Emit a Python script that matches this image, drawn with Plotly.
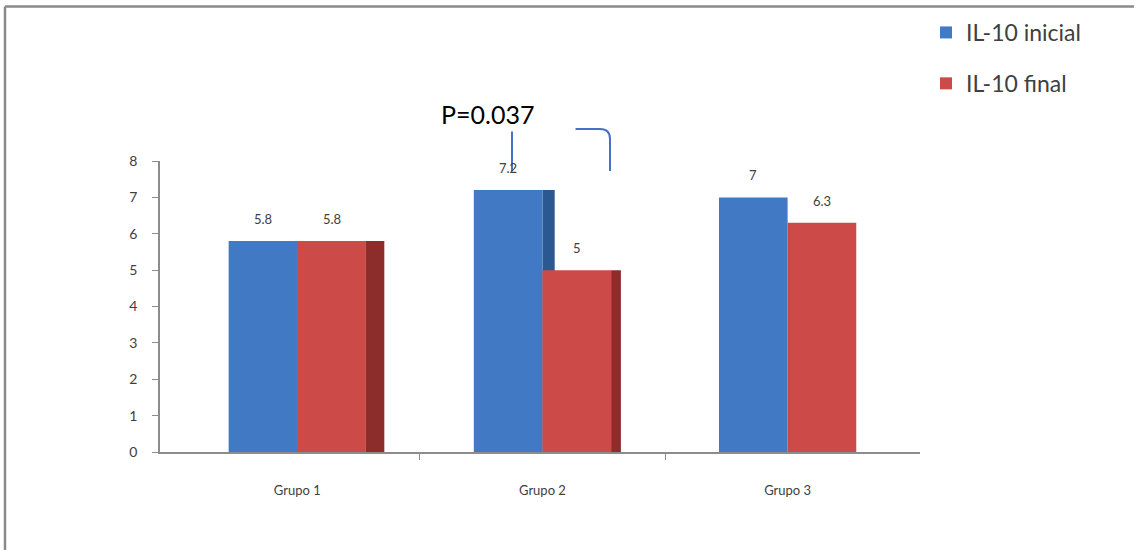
import plotly.graph_objects as go

# Data
grupos = ["Grupo 1", "Grupo 2", "Grupo 3"]
il10_inicial = [5.8, 7.2, 7.0]
il10_final = [5.8, 5.0, 6.3]
y_ticks = [0, 1, 2, 3, 4, 5, 6, 7, 8]

BLUE = "#4279C4"
BLUE_SIDE = "#2B5792"
RED = "#CC4A47"
RED_SIDE = "#8C2D2B"
AXIS = "#8C8C8C"
TXT = "#404040"

W = 0.28                          # width of each bar (axis units)
SIDE_BLUE = [0.05, 0.05, 0.0]     # visible depth of the blue columns
SIDE_RED = [0.075, 0.04, 0.0]     # visible depth of the red columns
xs = list(range(len(grupos)))


def side_values(values, depths):
    # no side face where the depth is not visible
    return [v if d > 0 else None for v, d in zip(values, depths)]


fig = go.Figure()

# darker side faces, drawn first so the front faces sit over them
fig.add_bar(x=xs, y=side_values(il10_inicial, SIDE_BLUE), offset=0,
            width=[d if d > 0 else 0.01 for d in SIDE_BLUE], marker_color=BLUE_SIDE,
            marker_line_width=0, showlegend=False, hoverinfo="skip")
fig.add_bar(x=xs, y=side_values(il10_final, SIDE_RED), offset=W,
            width=[d if d > 0 else 0.01 for d in SIDE_RED], marker_color=RED_SIDE,
            marker_line_width=0, showlegend=False, hoverinfo="skip")

fig.add_bar(x=xs, y=il10_inicial, offset=-W, width=W, marker_color=BLUE,
            marker_line_width=0, name="IL-10 inicial", legendgroup="a")
fig.add_bar(x=xs, y=il10_final, offset=0, width=W, marker_color=RED,
            marker_line_width=0, name="IL-10 final", legendgroup="b")

# value labels above each bar
annotations = []
for i, (a, b) in enumerate(zip(il10_inicial, il10_final)):
    for xv, v in ((i - W / 2, a), (i + W / 2, b)):
        annotations.append(dict(
            x=xv, y=v, xref="x", yref="y", text=f"{v:g}", showarrow=False,
            yanchor="bottom", yshift=12, font=dict(family="Lato", size=13, color=TXT)))

# plot-area geometry in pixels, used to place the decorations in paper units
L, R, T, B = 160, 920, 160, 452


def px(xp):
    return (xp - L) / (R - L)


def py(yp):
    return (B - yp) / (B - T)


annotations.append(dict(
    x=px(438), y=py(95), xref="paper", yref="paper", xanchor="left", yanchor="top",
    text="P=0.037", showarrow=False, align="left", width=132, bgcolor="white",
    borderpad=2, font=dict(family="Lato", size=25, color="black")))

bracket = (f"M {px(512)},{py(170)} L {px(512)},{py(128)} L {px(600)},{py(128)} "
           f"Q {px(610)},{py(128)} {px(610)},{py(138)} L {px(610)},{py(170)}")

shapes = [
    dict(type="path", path=bracket, xref="paper", yref="paper",
         line=dict(color="#4472C4", width=2)),
    # outer frame (left and top edges)
    dict(type="line", xref="paper", yref="paper", x0=px(5), x1=px(5), y0=py(5), y1=py(552),
         line=dict(color="#8A8A8A", width=2.5)),
    dict(type="line", xref="paper", yref="paper", x0=px(5), x1=px(1134), y0=py(5), y1=py(5),
         line=dict(color="#8A8A8A", width=2.5)),
]

fig.update_layout(
    width=1138, height=550,
    margin=dict(l=L, r=1138 - R, t=T, b=550 - B),
    paper_bgcolor="white", plot_bgcolor="white",
    barmode="overlay",
    showlegend=True,
    legend=dict(x=px(926), y=py(11), xanchor="left", yanchor="top",
                font=dict(family="Lato", size=23, color=TXT),
                traceorder="grouped", tracegroupgap=18,
                bgcolor="rgba(0,0,0,0)"),
    annotations=annotations,
    shapes=shapes,
    xaxis=dict(range=[-0.56, 2.54], tickvals=xs, ticktext=grupos,
               showline=True, linecolor=AXIS, linewidth=1.5, showgrid=False,
               zeroline=False, ticks="", ticklabelstandoff=26,
               tickfont=dict(family="Lato", size=13, color=TXT),
               minor=dict(tickvals=[0.5, 1.5], ticks="outside", ticklen=6,
                          tickcolor=AXIS, showgrid=False)),
    yaxis=dict(range=[0, 8], tickvals=y_ticks, showline=True, linecolor=AXIS,
               linewidth=1.5, showgrid=False, zeroline=False, ticks="outside",
               ticklen=6, tickcolor=AXIS, ticklabelstandoff=12,
               tickfont=dict(family="Lato", size=14, color=TXT)),
)

fig.write_html("out.html")
